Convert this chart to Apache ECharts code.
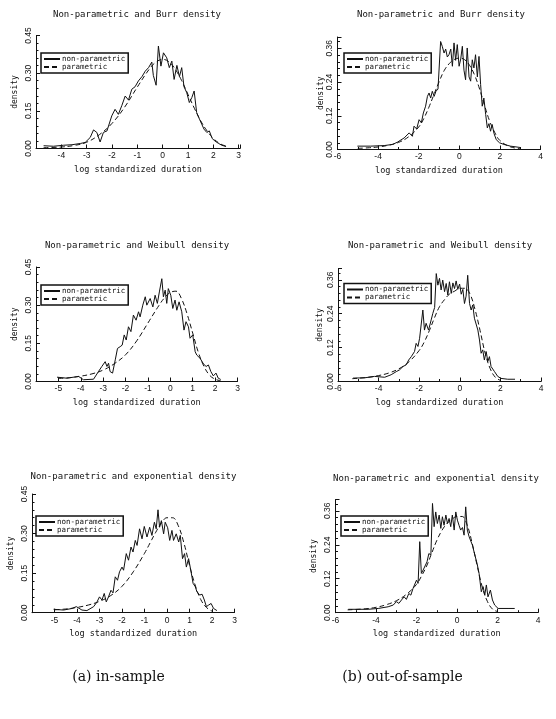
<!DOCTYPE html>
<html><head><meta charset="utf-8">
<script src="https://cdn.jsdelivr.net/npm/echarts@6/dist/echarts.min.js"></script>
<style>html,body{margin:0;padding:0;background:#fff}#c{width:556px;height:719px}</style>
</head><body><div id="c"></div>
<script>
// ---------- data (x = log standardized duration, y = density) ----------
const titles = ['Non-parametric and Burr density','Non-parametric and Burr density',
  'Non-parametric and Weibull density','Non-parametric and Weibull density',
  'Non-parametric and exponential density','Non-parametric and exponential density'];
const captions = ['(a) in-sample', '(b) out-of-sample'];
const legendNames = ['non-parametric', 'parametric'];
const xTicksBurrIn = [-4,-3,-2,-1,0,1,2,3];
const xTicksIn = [-5,-4,-3,-2,-1,0,1,2,3];
const xTicksOut = [-6,-4,-2,0,2,4];
const yTicksIn = [0, 0.15, 0.30, 0.45];
const yTicksOut = [0, 0.12, 0.24, 0.36];

const burrInNP = [[-4.70,0.011],[-4.31,0.009],[-3.91,0.013],[-3.58,0.015],[-3.25,0.020],[-3.06,0.024],[-2.86,0.044],[-2.73,0.074],[-2.60,0.064],[-2.47,0.026],[-2.34,0.064],[-2.20,0.070],[-2.01,0.130],[-1.88,0.156],[-1.75,0.136],[-1.61,0.172],[-1.48,0.209],[-1.35,0.193],[-1.22,0.236],[-1.09,0.246],[-0.96,0.269],[-0.82,0.286],[-0.69,0.308],[-0.56,0.322],[-0.43,0.344],[-0.37,0.291],[-0.26,0.252],[-0.17,0.408],[-0.07,0.328],[0.03,0.381],[0.16,0.361],[0.26,0.322],[0.36,0.348],[0.45,0.275],[0.56,0.331],[0.66,0.286],[0.75,0.322],[0.84,0.246],[0.95,0.222],[1.05,0.183],[1.15,0.203],[1.24,0.229],[1.34,0.143],[1.45,0.117],[1.54,0.097],[1.63,0.077],[1.74,0.064],[1.84,0.070],[1.95,0.040],[2.06,0.030],[2.19,0.021],[2.33,0.013],[2.50,0.008]];
const burrInPar = [[-4.7,0.003],[-4.0,0.006],[-3.5,0.012],[-3.0,0.025],[-2.5,0.055],[-2.0,0.100],[-1.5,0.165],[-1.0,0.245],[-0.5,0.320],[-0.25,0.345],[0,0.355],[0.25,0.345],[0.5,0.315],[0.75,0.270],[1.0,0.215],[1.25,0.160],[1.5,0.110],[1.75,0.070],[2.0,0.040],[2.25,0.020],[2.5,0.009]];

const burrOutNP = [[-5.02,0.012],[-4.36,0.012],[-3.70,0.014],[-3.29,0.018],[-3.05,0.026],[-2.72,0.041],[-2.47,0.059],[-2.31,0.047],[-2.23,0.083],[-2.10,0.073],[-1.98,0.106],[-1.87,0.095],[-1.77,0.130],[-1.66,0.154],[-1.57,0.189],[-1.49,0.201],[-1.41,0.183],[-1.33,0.207],[-1.24,0.189],[-1.15,0.207],[-1.05,0.215],[-0.92,0.384],[-0.84,0.367],[-0.75,0.343],[-0.67,0.357],[-0.59,0.329],[-0.51,0.337],[-0.42,0.357],[-0.34,0.296],[-0.26,0.379],[-0.18,0.317],[-0.10,0.373],[-0.01,0.296],[0.07,0.322],[0.15,0.367],[0.23,0.282],[0.31,0.248],[0.39,0.361],[0.48,0.258],[0.56,0.243],[0.64,0.319],[0.72,0.290],[0.80,0.337],[0.89,0.258],[0.97,0.331],[1.05,0.231],[1.13,0.154],[1.21,0.183],[1.30,0.124],[1.38,0.077],[1.46,0.092],[1.54,0.065],[1.62,0.089],[1.71,0.057],[1.82,0.035],[1.98,0.024],[2.20,0.018],[2.52,0.012],[3.02,0.007]];
const burrOutPar = [[-5.0,0.004],[-4.5,0.006],[-4.0,0.009],[-3.5,0.015],[-3.0,0.025],[-2.5,0.045],[-2.0,0.080],[-1.75,0.110],[-1.5,0.150],[-1.25,0.195],[-1.0,0.240],[-0.75,0.280],[-0.5,0.305],[-0.25,0.320],[0,0.325],[0.25,0.320],[0.5,0.300],[0.75,0.265],[1.0,0.215],[1.25,0.155],[1.5,0.100],[1.75,0.060],[2.0,0.032],[2.5,0.010],[3.0,0.003]];

const weibInNP = [[-5.06,0.017],[-4.62,0.013],[-4.10,0.020],[-3.88,0.007],[-3.43,0.009],[-3.21,0.039],[-3.06,0.059],[-2.91,0.078],[-2.83,0.059],[-2.76,0.072],[-2.69,0.039],[-2.58,0.033],[-2.46,0.085],[-2.36,0.130],[-2.24,0.137],[-2.15,0.143],[-2.06,0.183],[-1.97,0.163],[-1.87,0.215],[-1.76,0.196],[-1.65,0.261],[-1.53,0.241],[-1.42,0.274],[-1.35,0.254],[-1.23,0.300],[-1.12,0.333],[-1.05,0.300],[-0.90,0.326],[-0.78,0.293],[-0.68,0.339],[-0.58,0.307],[-0.49,0.352],[-0.38,0.404],[-0.31,0.333],[-0.23,0.359],[-0.16,0.307],[-0.09,0.365],[0.02,0.339],[0.11,0.287],[0.21,0.320],[0.29,0.280],[0.39,0.313],[0.51,0.274],[0.61,0.202],[0.70,0.235],[0.81,0.215],[0.88,0.170],[1.00,0.183],[1.11,0.117],[1.18,0.104],[1.33,0.091],[1.48,0.069],[1.60,0.059],[1.70,0.065],[1.81,0.039],[1.92,0.022],[2.04,0.033],[2.14,0.013],[2.25,0.008]];
const weibInPar = [[-5.0,0.012],[-4.5,0.015],[-4.0,0.021],[-3.5,0.030],[-3.0,0.045],[-2.5,0.070],[-2.0,0.105],[-1.5,0.160],[-1.0,0.230],[-0.5,0.300],[-0.25,0.330],[0,0.350],[0.25,0.355],[0.5,0.325],[0.75,0.265],[1.0,0.190],[1.25,0.115],[1.5,0.060],[1.75,0.025],[2.0,0.009],[2.25,0.003]];

const weibOutNP = [[-5.26,0.012],[-4.69,0.013],[-4.20,0.018],[-3.70,0.015],[-3.38,0.024],[-3.13,0.035],[-2.97,0.041],[-2.80,0.053],[-2.64,0.059],[-2.52,0.076],[-2.39,0.088],[-2.23,0.106],[-2.15,0.135],[-2.06,0.124],[-1.98,0.153],[-1.90,0.159],[-1.82,0.253],[-1.74,0.182],[-1.66,0.206],[-1.54,0.182],[-1.41,0.218],[-1.33,0.241],[-1.24,0.262],[-1.16,0.382],[-1.08,0.341],[-1.00,0.365],[-0.92,0.324],[-0.84,0.359],[-0.75,0.318],[-0.67,0.347],[-0.59,0.306],[-0.51,0.353],[-0.42,0.312],[-0.34,0.349],[-0.26,0.329],[-0.18,0.356],[-0.10,0.326],[-0.01,0.345],[0.07,0.309],[0.15,0.326],[0.23,0.276],[0.31,0.302],[0.39,0.376],[0.48,0.276],[0.56,0.253],[0.64,0.271],[0.72,0.224],[0.80,0.218],[0.89,0.182],[0.97,0.147],[1.05,0.100],[1.13,0.112],[1.21,0.076],[1.30,0.106],[1.38,0.071],[1.46,0.088],[1.54,0.053],[1.71,0.035],[1.87,0.018],[2.03,0.011],[2.36,0.008],[2.72,0.008]];
const weibOutPar = [[-5.3,0.010],[-4.5,0.015],[-4.0,0.021],[-3.5,0.030],[-3.0,0.045],[-2.5,0.070],[-2.0,0.110],[-1.75,0.140],[-1.5,0.180],[-1.25,0.225],[-1.0,0.265],[-0.75,0.290],[-0.5,0.310],[-0.25,0.320],[0,0.330],[0.25,0.330],[0.5,0.310],[0.75,0.255],[1.0,0.180],[1.25,0.100],[1.5,0.045],[1.75,0.015],[2.0,0.004]];

const expInNP = [[-5.04,0.013],[-4.60,0.010],[-4.22,0.016],[-4.03,0.023],[-3.78,0.010],[-3.56,0.008],[-3.26,0.023],[-3.11,0.041],[-3.00,0.060],[-2.89,0.048],[-2.79,0.073],[-2.70,0.041],[-2.60,0.060],[-2.49,0.085],[-2.40,0.075],[-2.30,0.136],[-2.20,0.123],[-2.11,0.155],[-2.00,0.173],[-1.93,0.161],[-1.81,0.224],[-1.71,0.199],[-1.60,0.249],[-1.51,0.230],[-1.41,0.274],[-1.33,0.255],[-1.22,0.318],[-1.11,0.280],[-1.01,0.327],[-0.89,0.287],[-0.77,0.324],[-0.67,0.293],[-0.56,0.343],[-0.48,0.318],[-0.40,0.390],[-0.33,0.324],[-0.25,0.349],[-0.15,0.299],[-0.08,0.343],[0.03,0.322],[0.12,0.274],[0.22,0.312],[0.29,0.274],[0.41,0.299],[0.52,0.268],[0.59,0.293],[0.69,0.205],[0.78,0.224],[0.86,0.173],[0.96,0.205],[1.07,0.155],[1.16,0.111],[1.26,0.098],[1.33,0.079],[1.45,0.067],[1.56,0.070],[1.66,0.048],[1.75,0.023],[1.85,0.029],[1.96,0.035],[2.07,0.016],[2.22,0.008]];
const expInPar = [[-5.0,0.011],[-4.5,0.014],[-4.0,0.020],[-3.5,0.029],[-3.0,0.043],[-2.5,0.065],[-2.0,0.100],[-1.5,0.155],[-1.0,0.225],[-0.75,0.265],[-0.5,0.305],[-0.25,0.340],[0,0.360],[0.25,0.360],[0.5,0.330],[0.75,0.265],[1.0,0.180],[1.25,0.105],[1.5,0.050],[1.75,0.020],[2.0,0.006]];

const expOutNP = [[-5.37,0.012],[-4.39,0.012],[-3.89,0.015],[-3.40,0.021],[-3.15,0.027],[-2.99,0.039],[-2.87,0.033],[-2.74,0.045],[-2.61,0.056],[-2.50,0.047],[-2.38,0.068],[-2.28,0.062],[-2.17,0.086],[-2.08,0.080],[-2.00,0.115],[-1.92,0.104],[-1.84,0.251],[-1.76,0.139],[-1.67,0.151],[-1.59,0.145],[-1.48,0.180],[-1.39,0.209],[-1.29,0.204],[-1.21,0.386],[-1.13,0.304],[-1.05,0.356],[-0.97,0.315],[-0.88,0.345],[-0.80,0.298],[-0.72,0.339],[-0.64,0.309],[-0.55,0.345],[-0.47,0.315],[-0.39,0.333],[-0.31,0.304],[-0.23,0.345],[-0.14,0.292],[-0.06,0.356],[0.02,0.327],[0.10,0.309],[0.18,0.292],[0.27,0.301],[0.35,0.274],[0.43,0.374],[0.51,0.292],[0.60,0.268],[0.68,0.262],[0.76,0.239],[0.88,0.204],[0.99,0.174],[1.09,0.139],[1.20,0.074],[1.29,0.092],[1.37,0.062],[1.45,0.098],[1.53,0.056],[1.65,0.080],[1.75,0.045],[1.86,0.027],[2.03,0.015],[2.52,0.015],[2.85,0.015]];
const expOutPar = [[-5.4,0.010],[-4.5,0.014],[-4.0,0.019],[-3.5,0.028],[-3.0,0.042],[-2.5,0.065],[-2.0,0.100],[-1.75,0.130],[-1.5,0.165],[-1.25,0.210],[-1.0,0.255],[-0.75,0.290],[-0.5,0.315],[-0.25,0.330],[0,0.340],[0.25,0.340],[0.5,0.310],[0.75,0.245],[1.0,0.165],[1.25,0.090],[1.5,0.040],[1.75,0.013],[2.0,0.004]];

const npData = [burrInNP, burrOutNP, weibInNP, weibOutNP, expInNP, expOutNP];
const parData = [burrInPar, burrOutPar, weibInPar, weibOutPar, expInPar, expOutPar];
const xLabelSets = [xTicksBurrIn, xTicksOut, xTicksIn, xTicksOut, xTicksIn, xTicksOut];

// ---------- layout ----------
const panels = [
  {grid:{left:36,top:35.5,width:204,height:113}, x:[-5,3.05,1], inS:true, title:[137,10], yName:17.5, legend:[41,53]},
  {grid:{left:337.5,top:37,width:203,height:112.5}, x:[-6,4,2], inS:false, title:[441,10], yName:13, legend:[344,53]},
  {grid:{left:36,top:267,width:201.5,height:114.5}, x:[-6,3,1], inS:true, title:[137,241], yName:17.5, legend:[41,285]},
  {grid:{left:338,top:268.5,width:203,height:113}, x:[-6,4,2], inS:false, title:[440,241.5], yName:14.5, legend:[344,283.5]},
  {grid:{left:32,top:494,width:202.5,height:118.7}, x:[-6,3,1], inS:true, title:[133.5,472.5], yName:17, legend:[36,516]},
  {grid:{left:335.5,top:499.5,width:202.5,height:113.2}, x:[-6,4,2], inS:false, title:[436,474], yName:17.5, legend:[341,516]}
];

const MONO = 'DejaVu Sans Mono';
const LBL = 'Liberation Sans';
const ink = '#111';

const option = {
  backgroundColor:'#fff', animation:false,
  title:[], grid:[], xAxis:[], yAxis:[], series:[], legend:[]
};

panels.forEach((p, i) => {
  option.title.push({text:titles[i], left:p.title[0], top:p.title[1], textAlign:'center', padding:0,
    textStyle:{fontFamily:MONO, fontSize:9, fontWeight:'normal', color:ink}});
  option.grid.push(Object.assign({containLabel:false}, p.grid));
  const shown = xLabelSets[i];
  option.xAxis.push({type:'value', gridIndex:i, min:p.x[0], max:p.x[1], interval:p.x[2],
    name:'log standardized duration', nameLocation:'middle', nameGap:16.5,
    nameTextStyle:{fontFamily:MONO, fontSize:8.5, color:ink},
    axisLine:{show:true, onZero:false, lineStyle:{color:ink, width:1}},
    axisTick:{show:true, inside:true, length:4, lineStyle:{color:ink}},
    minorTick:{show:!p.inS, splitNumber:2, length:2.5, lineStyle:{color:ink}},
    splitLine:{show:false},
    axisLabel:{margin:3, fontFamily:LBL, fontSize:8.5, color:ink, showMinLabel:true, showMaxLabel:true,
      formatter:(v)=>{ const r=Math.round(v); return (Math.abs(v-r)<1e-6 && shown.indexOf(r)>=0) ? String(r) : ''; }}
  });
  const yt = p.inS ? yTicksIn : yTicksOut;
  option.yAxis.push({type:'value', gridIndex:i, min:0, max:p.inS?0.45:0.40, interval:p.inS?0.15:0.12,
    name:'density', nameLocation:'middle', nameGap:p.yName,
    nameTextStyle:{fontFamily:MONO, fontSize:8, color:ink},
    axisLine:{show:true, onZero:false, lineStyle:{color:ink, width:1}},
    axisTick:{show:true, inside:true, length:4, lineStyle:{color:ink}},
    minorTick:{show:true, splitNumber:5, length:2.5, lineStyle:{color:ink}},
    splitLine:{show:false},
    axisLabel:{margin:3, rotate:90, fontFamily:LBL, fontSize:8.5, color:ink, showMaxLabel:true,
      formatter:(v)=>{ return yt.some(t=>Math.abs(t-v)<1e-6) ? v.toFixed(2) : ''; }}
  });
  option.series.push({name:legendNames[0], type:'line', xAxisIndex:i, yAxisIndex:i, data:npData[i],
    showSymbol:false, symbol:'none', lineStyle:{color:ink, width:1}, itemStyle:{color:ink}, z:3});
  option.series.push({name:legendNames[1], type:'line', xAxisIndex:i, yAxisIndex:i, data:parData[i],
    smooth:0.4, showSymbol:false, symbol:'none', lineStyle:{color:ink, width:1, type:[5,3]}, itemStyle:{color:ink}, z:2});
  option.legend.push({data:legendNames, orient:'vertical', left:p.legend[0], top:p.legend[1],
    itemGap:0, itemWidth:16, itemHeight:8, padding:[2,3,2,2], borderColor:ink, borderWidth:1.5,
    selectedMode:false, itemStyle:{color:'transparent', borderColor:'transparent', borderWidth:0, opacity:0},
    textStyle:{fontFamily:MONO, fontSize:7.5, color:ink, padding:[0,0,0,-3]}});
});

option.title.push({text:captions[0], left:118.5, top:670, textAlign:'center', padding:0,
  textStyle:{fontFamily:'DejaVu Serif', fontSize:14, fontWeight:'normal', color:ink}});
option.title.push({text:captions[1], left:402.5, top:670, textAlign:'center', padding:0,
  textStyle:{fontFamily:'DejaVu Serif', fontSize:14, fontWeight:'normal', color:ink}});

const chart = echarts.init(document.getElementById('c'), null, {renderer:'canvas'});
chart.setOption(option);
</script></body></html>
